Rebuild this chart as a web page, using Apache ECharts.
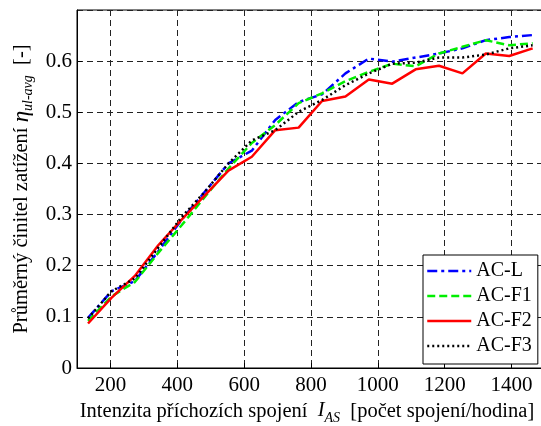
<!DOCTYPE html>
<html><head><meta charset="utf-8">
<script src="https://cdn.jsdelivr.net/npm/echarts@6/dist/echarts.min.js"></script>
<style>html,body{margin:0;padding:0;overflow:hidden;background:#fff}#c{width:541px;height:426px}</style>
</head><body><div id="c"></div>
<script>
const xValues = [133,203,273,343,413,483,553,623,693,763,833,903,973,1043,1113,1183,1253,1323,1393,1463];
const acL  = [0.098,0.150,0.170,0.228,0.290,0.345,0.400,0.425,0.485,0.520,0.535,0.576,0.605,0.599,0.607,0.615,0.625,0.641,0.647,0.651];
const acF1 = [0.092,0.140,0.168,0.225,0.279,0.335,0.390,0.440,0.475,0.518,0.537,0.561,0.579,0.595,0.590,0.615,0.628,0.641,0.631,0.635];
const acF2 = [0.087,0.137,0.180,0.240,0.290,0.338,0.386,0.413,0.465,0.470,0.522,0.531,0.564,0.556,0.584,0.591,0.576,0.615,0.610,0.625];
const acF3 = [0.097,0.150,0.175,0.235,0.295,0.345,0.400,0.445,0.465,0.501,0.524,0.553,0.576,0.595,0.597,0.607,0.607,0.613,0.625,0.631];
const xTicks = [200,400,600,800,1000,1200,1400];
const seriesNames = ['AC-L','AC-F1','AC-F2','AC-F3'];

const FONT = 'Liberation Serif';
const pair = a => a.map((v,i)=>[xValues[i], v]);
const chart = echarts.init(document.getElementById('c'), null, {renderer:'canvas'});
const mk = (name, data, color, type) => ({
  name, type:'line', data: pair(data), symbol:'none', smooth:false,
  lineStyle:{color, width:2.5, type}, itemStyle:{color}
});
const NF = 20.5;
chart.setOption({
  animation:false,
  grid:{left:77, top:10, right:-4, bottom:58, show:true, borderColor:'#000', borderWidth:1,
        containLabel:false, outerBoundsMode:'none'},
  xAxis:{
    type:'value', min:100, max:1500,
    axisLine:{show:true, lineStyle:{color:'#000', width:1}},
    axisTick:{show:true, inside:true, length:5, customValues:xTicks, lineStyle:{color:'#000'}},
    axisLabel:{customValues:xTicks, color:'#000', fontFamily:FONT, fontSize:21, margin:7,
      formatter:v => String(v)},
    splitLine:{show:true, lineStyle:{color:'#222', type:[6,4], width:1}},
    name:'{a|Intenzita příchozích spojení  }{i|I}{s|AS}{a|  [počet spojení/hodina]}',
    nameLocation:'middle', nameGap:29,
    nameTextStyle:{color:'#000', fontFamily:FONT, fontSize:NF, padding:[0,8,0,0],
      rich:{a:{fontFamily:FONT, fontSize:NF, color:'#000', lineHeight:22, verticalAlign:'top'},
            i:{fontFamily:FONT, fontSize:NF, color:'#000', fontStyle:'italic', lineHeight:22, verticalAlign:'top'},
            s:{fontFamily:FONT, fontSize:14, color:'#000', fontStyle:'italic', lineHeight:22, verticalAlign:'top', padding:[10,0,0,0]}}}
  },
  yAxis:{
    type:'value', min:0, max:0.7, interval:0.1,
    axisLine:{show:true, lineStyle:{color:'#000', width:1}},
    axisTick:{show:true, inside:true, length:5, lineStyle:{color:'#000'}},
    axisLabel:{color:'#000', fontFamily:FONT, fontSize:21, margin:5, showMaxLabel:false,
      formatter:v => v===0 ? '0' : v.toFixed(1)},
    splitLine:{show:true, lineStyle:{color:'#222', type:[6,4], width:1}},
    name:'{a|Průměrný činitel zatížení }{e|η}{s|ul-avg}{a|  [-]}',
    nameLocation:'middle', nameGap:44, nameRotate:90,
    nameTextStyle:{color:'#000', fontFamily:FONT, fontSize:NF,
      rich:{a:{fontFamily:FONT, fontSize:NF, color:'#000', lineHeight:22, verticalAlign:'top'},
            e:{fontFamily:FONT, fontSize:23, color:'#000', fontStyle:'italic', lineHeight:22, verticalAlign:'top'},
            s:{fontFamily:FONT, fontSize:14, color:'#000', fontStyle:'italic', lineHeight:22, verticalAlign:'top', padding:[10,0,0,0]}}}
  },
  legend:{
    orient:'vertical', left:423, top:255, itemWidth:44, itemHeight:14, itemGap:5,
    itemStyle:{opacity:0},
    lineStyle:{width:2.5},
    backgroundColor:'#fff', borderColor:'#000', borderWidth:1, borderRadius:0,
    padding:[6,6,8,3],
    textStyle:{color:'#000', fontFamily:FONT, fontSize:20},
    data:seriesNames
  },
  series:[
    mk(seriesNames[0], acL, '#0000ff', [10,4,3,4]),
    mk(seriesNames[1], acF1, '#00ee00', [8,4]),
    mk(seriesNames[2], acF2, '#ff0000', 'solid'),
    mk(seriesNames[3], acF3, '#000000', [2,3])
  ]
});
</script></body></html>
